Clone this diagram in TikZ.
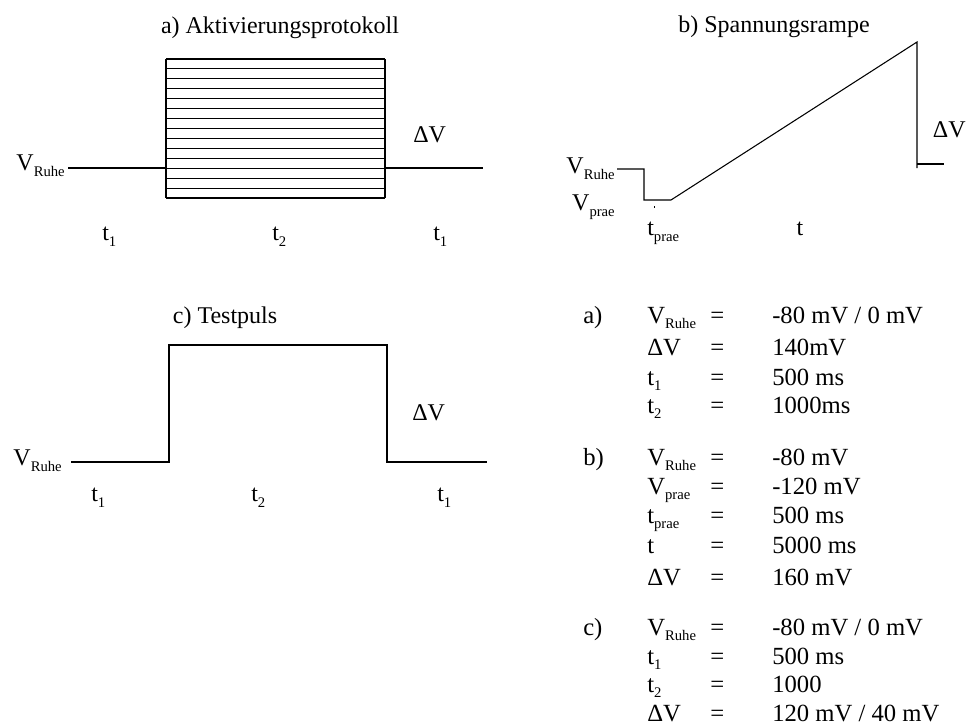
\documentclass[tikz,border=0pt]{standalone}
\usepackage{fontspec}
\setmainfont{Liberation Serif}
\usetikzlibrary{positioning}
\newcommand{\lsub}[1]{\raisebox{-5pt}{\fontsize{11}{11}\selectfont #1}}
\newcommand{\tsub}[1]{\raisebox{-4.2pt}{\fontsize{11}{11}\selectfont #1}}

\begin{document}
\begin{tikzpicture}[
  x=0.75pt,
  y=-0.75pt,
  wave/.style={line width=.8pt,line join=miter},
  hatch/.style={line width=.8pt},
  title/.style={font=\fontsize{18}{21}\selectfont,inner sep=0pt,anchor=base},
  lbl/.style={font=\fontsize{18}{21}\selectfont,inner sep=0pt},
  tab/.style={font=\fontsize{18.5}{21}\selectfont,inner sep=0pt,anchor=base west}
]
\useasboundingbox (0,0) rectangle (968,728);

% a) Aktivierungsprotokoll
\node[title] (titleA) at (280,33) {a) Aktivierungsprotokoll};
\foreach \k in {0,...,14}
  \draw[hatch] (166,{59+\k*9.93}) -- (385,{59+\k*9.93});
\draw[wave] (166,59) -- (166,198);
\draw[wave] (385,59) -- (385,198);
\draw[wave] (68,168) -- (166,168);
\draw[wave] (385,168) -- (483,168);
\node[lbl,anchor=base east] (vruheA) at (65,170) {V\lsub{Ruhe}};
\node[lbl,anchor=base west] (dvA) at (413,142) {ΔV};
\node[lbl,anchor=base west] (t1A) at (102,240) {t\lsub{1}};
\node[lbl,anchor=base west] (t2A) at (272,240) {t\lsub{2}};
\node[lbl,anchor=base west] (t1Ar) at (433,240) {t\lsub{1}};

% b) Spannungsrampe
\node[title] (titleB) at (774,32) {b) Spannungsrampe};
\draw[wave] (617,169) -- (644,169) -- (644,200) -- (671,200) -- (917,42) -- (917,168);
\draw[wave] (917,164) -- (944,164);
\draw[line width=.6pt] (654,206) -- (654,208);
\node[lbl,anchor=base east] (vruheB) at (615,173) {V\lsub{Ruhe}};
\node[lbl,anchor=base east] (vpraeB) at (615,210) {V\lsub{prae}};
\node[lbl,anchor=base west] (tpraeB) at (647,235) {t\lsub{prae}};
\node[lbl,anchor=base] (tB) at (800,235) {t};
\node[lbl,anchor=base east] (dvB) at (966,137) {ΔV};

% c) Testpuls
\node[title] (titleC) at (225,323) {c) Testpuls};
\draw[wave] (71,462) -- (169,462) -- (169,345) -- (387,345) -- (387,462) -- (487,462);
\node[lbl,anchor=base east] (vruheC) at (62,465) {V\lsub{Ruhe}};
\node[lbl,anchor=base west] (dvC) at (412,420) {ΔV};
\node[lbl,anchor=base west] (t1C) at (91,501) {t\lsub{1}};
\node[lbl,anchor=base west] (t2C) at (251,501) {t\lsub{2}};
\node[lbl,anchor=base west] (t1Cr) at (437,501) {t\lsub{1}};

% Parameter
\node[tab] (partA) at (583,323) {a)};
\node[tab] (partB) at (583,465) {b)};
\node[tab] (partC) at (583,635) {c)};
\foreach \yy/\lhs/\rhs in {
    323/{V\tsub{Ruhe}}/{-80 mV / 0 mV},
    355/{ΔV}/{140mV},
    385/{t\tsub{1}}/{500 ms},
    413/{t\tsub{2}}/{1000ms},
    465/{V\tsub{Ruhe}}/{-80 mV},
    494/{V\tsub{prae}}/{-120 mV},
    523/{t\tsub{prae}}/{500 ms},
    553/{t}/{5000 ms},
    585/{ΔV}/{160 mV},
    635/{V\tsub{Ruhe}}/{-80 mV / 0 mV},
    664/{t\tsub{1}}/{500 ms},
    692/{t\tsub{2}}/{1000},
    721/{ΔV}/{120 mV / 40 mV}}{
  \node[tab] (lhs\yy) at (647,\yy) {\lhs};
  \node[tab] (eq\yy) at (710,\yy) {=};
  \node[tab] (rhs\yy) at (772,\yy) {\rhs};
}
\end{tikzpicture}
\end{document}
